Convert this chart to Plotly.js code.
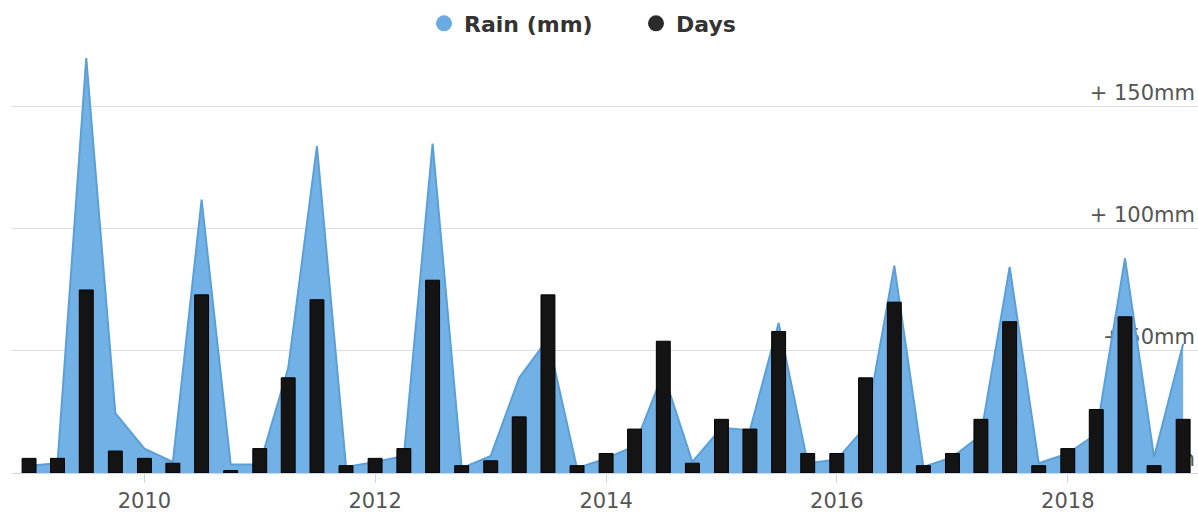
<!DOCTYPE html>
<html>
<head>
<meta charset="utf-8">
<script src="https://cdn.plot.ly/plotly-3.0.1.min.js"></script>
<style>html,body{margin:0;padding:0;background:#fff;}#chart{width:1198px;height:512px;}</style>
</head>
<body>
<div id="chart"></div>
<script>
const quarters = [
 "2009-01-01","2009-04-01","2009-07-01","2009-10-01",
 "2010-01-01","2010-04-01","2010-07-01","2010-10-01",
 "2011-01-01","2011-04-01","2011-07-01","2011-10-01",
 "2012-01-01","2012-04-01","2012-07-01","2012-10-01",
 "2013-01-01","2013-04-01","2013-07-01","2013-10-01",
 "2014-01-01","2014-04-01","2014-07-01","2014-10-01",
 "2015-01-01","2015-04-01","2015-07-01","2015-10-01",
 "2016-01-01","2016-04-01","2016-07-01","2016-10-01",
 "2017-01-01","2017-04-01","2017-07-01","2017-10-01",
 "2018-01-01","2018-04-01","2018-07-01","2018-10-01",
 "2019-01-01"
];
const rainMm = [3,4,170,24.5,10,4.5,112,3.5,3.5,43,134,2.5,4.5,7,135,2,7,39,55,2,6,11,41,4.5,18.5,17.5,61.5,4,5.5,19,85,2.5,6.5,15.5,84.5,4,8,16,88,6.5,53];
const rainDays = [6,6,75,9,6,4,73,1,10,39,71,3,6,10,79,3,5,23,73,3,8,18,54,4,22,18,58,8,8,39,70,3,8,22,62,3,10,26,64,3,22];
const yTickVals = [0,50,100,150];
const yTickText = ["0mm","+ 50mm","+ 100mm","+ 150mm"];
const seriesNames = ["Rain (mm)","Days"];

const rainFill = "#72b1e6";
const rainLine = "#5b9fd8";
const barColor = "#141414";
const yMax = 175.4;
const DAY = 86400000;

const traces = [
  {
    type: "scatter", mode: "lines", x: quarters, y: rainMm,
    fill: "tozeroy", fillcolor: rainFill,
    line: {color: rainLine, width: 2},
    name: seriesNames[0], showlegend: false, hoverinfo: "x+y",
    xaxis: "x", yaxis: "y"
  },
  {
    type: "bar", x: quarters, y: rainDays,
    width: 44 * DAY,
    marker: {color: barColor, line: {color: "#000", width: 1}},
    name: seriesNames[1], showlegend: false,
    xaxis: "x", yaxis: "y2"
  },
  {
    type: "scatter", mode: "markers", x: [null], y: [null],
    marker: {symbol: "circle", size: 16, color: "#6aabe4"},
    name: seriesNames[0], showlegend: true, xaxis: "x", yaxis: "y"
  },
  {
    type: "scatter", mode: "markers", x: [null], y: [null],
    marker: {symbol: "circle", size: 16, color: "#2b2b2b"},
    name: seriesNames[1], showlegend: true, xaxis: "x", yaxis: "y"
  }
];

const layout = {
  width: 1198, height: 512,
  margin: {l: 12, r: 0, t: 45, b: 39},
  paper_bgcolor: "#fff", plot_bgcolor: "#fff",
  font: {family: "DejaVu Sans, sans-serif", color: "#555"},
  showlegend: true,
  legend: {
    orientation: "h", x: 424, xref: "paper", xanchor: "left", y: 0.995, yanchor: "top",
    yref: "container",
    entrywidth: 167,
    font: {family: "DejaVu Sans, sans-serif", size: 22, color: "#333", weight: "bold"},
    itemsizing: "trace", bgcolor: "rgba(0,0,0,0)"
  },
  xaxis: {
    type: "date",
    range: ["2008-11-08", "2019-02-17"],
    tick0: "2010-01-01", dtick: "M24", tickformat: "%Y",
    ticks: "outside", ticklen: 9, tickcolor: "#ccd6eb",
    showgrid: false, zeroline: false,
    showline: true, linecolor: "#ccd6eb", linewidth: 1,
    tickfont: {size: 21, color: "#555"}
  },
  yaxis: {
    range: [0, yMax],
    side: "right",
    tickmode: "array", tickvals: yTickVals, ticktext: yTickText,
    ticklabelposition: "inside top",
    showgrid: true, gridcolor: "#dcdcdc", gridwidth: 1,
    zeroline: false, showline: false, ticks: "",
    layer: "below traces",
    tickfont: {size: 21, color: "#555"}
  },
  yaxis2: {
    range: [0, yMax], overlaying: "y", visible: false,
    showgrid: false, zeroline: false
  },
  bargap: 0
};
// legend x given in pixels -> convert to paper fraction of plot width
layout.legend.x = (424 - layout.margin.l) / (layout.width - layout.margin.l - layout.margin.r);

Plotly.newPlot("chart", traces, layout, {displayModeBar: false, staticPlot: true});
</script>
</body>
</html>
